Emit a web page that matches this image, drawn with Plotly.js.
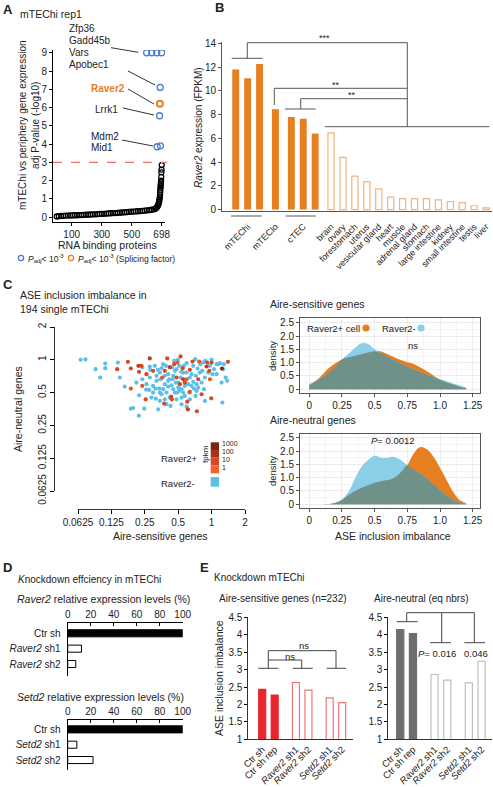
<!DOCTYPE html>
<html><head><meta charset="utf-8">
<script src="https://cdn.plot.ly/plotly-3.0.1.min.js"></script>
<style>html,body{margin:0;padding:0;background:#fff;}#chart{width:493px;height:787px;}</style>
</head><body><div id="chart"></div>
<script>
// ---------- Panel A data ----------
const rbpRank = [1,15,30,45,60,75,90,105,120,135,150,165,180,195,210,225,240,255,270,285,300,315,330,345,360,375,390,405,420,435,450,465,480,495,510,525,540,555,570,585,600,615,630,645,655,660,665,670,674,677,680,682,684,686,687,688,689,690,691,692,693,694,695,696,697,698];
const rbpLogP = [0.03,0.05,0.06,0.07,0.08,0.08,0.09,0.09,0.10,0.10,0.11,0.11,0.12,0.13,0.13,0.14,0.15,0.15,0.16,0.17,0.18,0.18,0.19,0.20,0.21,0.22,0.22,0.23,0.24,0.25,0.26,0.27,0.28,0.29,0.30,0.31,0.32,0.33,0.34,0.35,0.37,0.38,0.40,0.42,0.45,0.48,0.52,0.58,0.65,0.72,0.80,0.90,1.00,1.10,1.20,1.35,1.50,1.60,1.70,1.80,1.90,2.00,2.20,2.45,2.60,2.85];
const sigRank = [598,632,665,698,688,684,668,690];
const sigLogP = [9,9,9,9,7.1,5.55,3.85,3.9];
const splRank = [686];
const splLogP = [6.2];
const rbpTicks = [100,300,500,698];

// ---------- Panel B data ----------
const bLabels = ['mTEChi','mTEChi','mTEChi','mTEClo','cTEC','cTEC','cTEC','brain','ovary','forestomach','uterus','vesicular gland','heart','muscle','adrenal gland','stomach','large intestine','kidney','small intestine','testis','liver'];
const bValues = [11.8,11.05,12.25,8.45,7.8,7.65,6.4,6.45,4.4,2.82,2.35,1.75,1.05,0.92,0.92,0.92,0.82,0.68,0.58,0.32,0.15];
const thymic = ['mTEChi','mTEClo','cTEC'];

// ---------- Panel C scatter data ----------
const negX = [0.052,0.054,0.066,0.073,0.090,0.099,0.110,0.110,0.143,0.149,0.165,0.187,0.196,0.221,0.222,0.237,0.237,0.247,0.257,0.274,0.277,0.280,0.277,0.287,0.297,0.312,0.314,0.319,0.328,0.330,0.337,0.342,0.346,0.354,0.366,0.379,0.379,0.387,0.392,0.406,0.420,0.426,0.435,0.441,0.460,0.467,0.476,0.483,0.490,0.497,0.500,0.511,0.532,0.536,0.536,0.574,0.574,0.595,0.595,0.595,0.628,0.637,0.637,0.683,0.693,0.712,0.717,0.732,0.747,0.790,0.824,0.871,0.871,0.877,1.0,1.02,1.11,1.11,1.15,1.19,1.23,1.25,1.27,1.29,1.34,1.38,
  0.308,0.342,0.366,0.406,0.415,0.451,0.467,0.511,0.525,0.555,0.563,0.616,0.660,0.683,0.722,0.732,0.784,0.812,0.841,0.933,0.966,1.05,0.392,0.354,0.451,0.555,0.660,0.406,0.319,0.297,0.259,0.210,0.483,0.536,0.758,0.853,0.379,0.444,0.500,0.342];
const negY = [0.712,0.327,1.0,1.007,0.820,0.688,0.925,0.838,0.945,0.688,0.568,0.356,0.361,0.307,0.472,0.850,0.663,0.356,0.533,0.529,0.868,0.809,0.688,0.450,0.576,0.544,0.440,0.712,0.809,0.351,0.544,0.419,0.663,0.838,0.537,0.712,0.434,0.880,0.390,0.568,0.450,0.377,0.584,0.850,0.979,0.500,0.618,0.820,0.500,1.0,0.556,0.518,0.775,0.537,0.450,0.576,0.466,0.932,0.764,0.371,0.500,0.688,0.434,0.627,0.544,1.014,0.466,0.518,0.832,0.912,0.792,0.688,0.419,0.979,1.0,0.738,0.912,0.738,0.912,0.932,0.618,0.405,0.820,0.912,0.688,0.641,
  0.880,0.764,0.912,0.738,0.663,0.712,0.792,0.880,0.688,0.764,0.880,0.597,0.738,0.880,0.712,0.597,0.764,0.618,0.945,0.764,0.880,0.820,0.500,0.483,0.537,0.500,0.576,0.641,0.641,0.500,0.597,0.618,0.434,0.390,0.556,0.537,0.597,0.663,0.618,0.500];
const posX = [0.141,0.176,0.187,0.187,0.219,0.233,0.222,0.237,0.259,0.255,0.277,0.297,0.359,0.379,0.374,0.398,0.420,0.432,0.460,0.493,0.525,0.547,0.555,0.574,0.595,0.518,0.637,0.637,0.603,0.611,0.673,0.737,0.758,0.774,0.812,0.901,0.914,0.953,0.966,0.993,1.0,1.240,1.404,0.438,0.483];
const posY = [0.820,0.959,0.544,0.832,0.880,0.880,0.775,0.576,0.738,0.434,1.029,0.792,0.688,0.792,0.396,1.029,0.856,0.459,0.912,0.945,1.073,0.838,0.663,0.618,0.663,0.597,0.809,0.507,0.413,0.351,0.965,0.337,0.663,0.965,0.483,0.868,0.945,0.792,0.663,0.443,0.945,0.832,0.959,0.434,0.688];
const posFpkm = [10,10,3,10,30,10,10,3,10,10,30,10,3,10,10,10,30,10,10,3,10,10,30,10,3,10,10,3,10,30,10,10,10,3,10,30,10,10,3,10,10,300,10,10,10];
const log2Ticks = [0.0625,0.125,0.25,0.5,1,2];

// ---------- Panel C density data ----------
const sensX = [0,0.05,0.1,0.15,0.2,0.25,0.3,0.35,0.4,0.45,0.5,0.55,0.6,0.65,0.7,0.75,0.8,0.85,0.9,0.95,1.0,1.05,1.1,1.15,1.2];
const sensPos = [0.16,0.32,0.55,0.8,0.98,1.12,1.2,1.26,1.32,1.38,1.43,1.42,1.32,1.2,1.1,1.02,0.95,0.82,0.68,0.52,0.36,0.26,0.18,0.1,0.04];
const sensNeg = [0.2,0.3,0.44,0.62,0.86,1.12,1.33,1.56,1.73,1.7,1.5,1.36,1.22,1.1,0.96,0.86,0.74,0.64,0.55,0.46,0.38,0.31,0.22,0.14,0.07];
const neutX = [0.1,0.15,0.2,0.25,0.3,0.35,0.4,0.45,0.5,0.55,0.6,0.65,0.7,0.75,0.8,0.85,0.9,0.95,1.0,1.05,1.1,1.15,1.2];
const neutPos = [0,0.01,0.06,0.16,0.35,0.5,0.62,0.72,0.81,0.87,0.91,1.0,1.2,1.47,1.92,2.15,2.07,1.79,1.37,0.91,0.47,0.16,0.04];
const neutNeg = [0,0.0,0.05,0.19,0.47,0.97,1.41,1.66,1.82,1.75,1.75,1.78,1.66,1.47,1.29,1.16,0.97,0.75,0.54,0.35,0.16,0.07,0.01];

// ---------- Panel D data ----------
const dRaverLabels = ['Ctr sh','<i>Raver2</i> sh1','<i>Raver2</i> sh2'];
const dRaverValues = [100,12,7];
const dSetdLabels = ['Ctr sh','<i>Setd2</i> sh1','<i>Setd2</i> sh2'];
const dSetdValues = [100,8,22];

// ---------- Panel E data ----------
const eLabels = ['Ctr sh','Ctr sh rep','<i>Raver2</i> sh1','<i>Raver2</i> sh2','<i>Setd2</i> sh1','<i>Setd2</i> sh2'];
const eSens = [2.43,2.27,2.63,2.41,2.19,2.05];
const eNeut = [4.15,4.03,2.86,2.70,2.62,3.24];

// ================= layout helpers =================
const W = 493, H = 787;
const FONT = 'Liberation Sans, Arial, sans-serif';
const TXT = '#222';
const dx = (a,b) => [a/W, b/W];
const dy = (t,b) => [1-b/H, 1-t/H];
const PX = x => x/W, PY = y => 1-y/H;
const annotations = [];
function ann(text, x, y, o) {
  o = o || {};
  annotations.push({text: text, x: PX(x), y: PY(y), xref:'paper', yref:'paper', showarrow:false,
    xanchor: o.xa || 'left', yanchor: o.ya || 'middle', textangle: o.rot || 0,
    font: {family: FONT, size: o.size || 10, color: o.color || TXT}});
}
const shapes = [];
function seg(x0,y0,x1,y1,color,width,dash) {
  shapes.push({type:'line', xref:'paper', yref:'paper', x0:PX(x0), y0:PY(y0), x1:PX(x1), y1:PY(y1),
    line:{color: color || '#555', width: width || 1, dash: dash || 'solid'}});
}
function rect(x0,y0,x1,y1,fill) {
  shapes.push({type:'rect', xref:'paper', yref:'paper', x0:PX(x0), y0:PY(y0), x1:PX(x1), y1:PY(y1),
    fillcolor: fill, line:{width:0}});
}
function circ(x,y,r,color,fill) {
  shapes.push({type:'circle', xref:'paper', yref:'paper', x0:PX(x-r), y0:PY(y+r), x1:PX(x+r), y1:PY(y-r),
    fillcolor: fill || 'rgba(0,0,0,0)', line:{color: color, width: fill ? 0 : 1.2}});
}
const tf = s => ({family: FONT, size: s || 10, color: TXT});

const traces = [];

// ================= Panel A =================
traces.push({type:'scatter', mode:'markers', x: rbpRank, y: rbpLogP, xaxis:'x', yaxis:'y',
  marker:{symbol:'circle-open', size:5, color:'#000', line:{width:1.3, color:'#000'}}});
traces.push({type:'scatter', mode:'markers', x: sigRank, y: sigLogP, xaxis:'x', yaxis:'y',
  marker:{symbol:'circle-open', size:6, color:'#4A7BD0', line:{width:1.3, color:'#4A7BD0'}}});
traces.push({type:'scatter', mode:'markers', x: splRank, y: splLogP, xaxis:'x', yaxis:'y',
  marker:{symbol:'circle-open', size:6, color:'#E87E24', line:{width:2, color:'#E87E24'}}});

// ================= Panel B =================
const bPos = [];
let p = 0;
bLabels.forEach((l,i) => {
  if (i > 0) { p += 1; if (l !== bLabels[i-1] && thymic.includes(bLabels[i-1])) p += 0.33; }
  bPos.push(p);
});
const bIsThymic = bLabels.map(l => thymic.includes(l));
traces.push({type:'bar', x: bPos.filter((v,i)=>bIsThymic[i]), y: bValues.filter((v,i)=>bIsThymic[i]),
  xaxis:'x2', yaxis:'y2', width:0.58, marker:{color:'#E67E22', line:{width:0}}});
traces.push({type:'bar', x: bPos.filter((v,i)=>!bIsThymic[i]), y: bValues.filter((v,i)=>!bIsThymic[i]),
  xaxis:'x2', yaxis:'y2', width:0.52, marker:{color:'#ffffff', line:{width:1.2, color:'#F5B27C'}}});
const bTickVals = [], bTickText = [];
[...new Set(bLabels)].forEach(l => {
  const ps = bPos.filter((v,i)=>bLabels[i]===l);
  bTickVals.push(ps.reduce((a,b)=>a+b,0)/ps.length); bTickText.push(l);
});

// ================= Panel C scatter =================
traces.push({type:'scatter', mode:'markers', x: negX, y: negY, xaxis:'x3', yaxis:'y3', cliponaxis:false,
  marker:{size:4.2, color:'#5DBEE6'}});
traces.push({type:'scatter', mode:'markers', x: posX, y: posY, xaxis:'x3', yaxis:'y3', cliponaxis:false,
  marker:{size:4.2, color: posFpkm.map(v=>Math.log10(v)), cmin:0, cmax:3,
    colorscale:[[0,'#F2622A'],[0.33,'#D9461F'],[0.66,'#A9321A'],[1,'#6A1E10']], showscale:false}});

// ================= Panel C densities =================
const ORG = '#E67E22', BLU = '#8ACFE7', OVL = '#70908A';
function dens(xs, pos, neg, xa, ya) {
  traces.push({type:'scatter', mode:'lines', x: xs, y: pos, xaxis:xa, yaxis:ya, fill:'tozeroy',
    fillcolor:ORG, line:{width:0, shape:'spline', color:ORG}});
  traces.push({type:'scatter', mode:'lines', x: xs, y: neg, xaxis:xa, yaxis:ya, fill:'tozeroy',
    fillcolor:BLU, line:{width:0, shape:'spline', color:BLU}});
  traces.push({type:'scatter', mode:'lines', x: xs, y: pos.map((v,i)=>Math.min(v,neg[i])), xaxis:xa, yaxis:ya, fill:'tozeroy',
    fillcolor:OVL, line:{width:0, shape:'spline', color:OVL}});
}
dens(sensX, sensPos, sensNeg, 'x4', 'y4');
dens(neutX, neutPos, neutNeg, 'x5', 'y5');

// ================= Panel D =================
traces.push({type:'bar', orientation:'h', y: dRaverLabels, x: dRaverValues, xaxis:'x6', yaxis:'y6', width:0.46,
  marker:{color: dRaverLabels.map((l,i)=> i===0 ? '#000' : '#fff'), line:{width:1, color:'#000'}}});
traces.push({type:'bar', orientation:'h', y: dSetdLabels, x: dSetdValues, xaxis:'x7', yaxis:'y7', width:0.46,
  marker:{color: dSetdLabels.map((l,i)=> i===0 ? '#000' : '#fff'), line:{width:1, color:'#000'}}});

// ================= Panel E =================
const ePos = [];
eLabels.forEach((l,i)=>{ ePos.push(i===0 ? 0 : ePos[i-1] + (i%2===0 ? 1.7 : 1)); });
const isCtr = eLabels.map(l => l.startsWith('Ctr'));
traces.push({type:'bar', x: ePos, y: eSens, xaxis:'x8', yaxis:'y8', width:0.56, base:0,
  marker:{color: isCtr.map(c=> c ? '#E8262E' : '#fff'), line:{width:1.2, color: isCtr.map(c=> c ? '#E8262E' : '#F07676')}}});
traces.push({type:'bar', x: ePos, y: eNeut, xaxis:'x9', yaxis:'y9', width:0.56, base:0,
  marker:{color: isCtr.map(c=> c ? '#6E6E6E' : '#fff'), line:{width:1.2, color: isCtr.map(c=> c ? '#6E6E6E' : '#BDBDBD')}}});

// ================= axes =================
const base = {showgrid:false, zeroline:false, showline:true, linecolor:'#000', linewidth:1,
  ticks:'outside', ticklen:3, tickcolor:'#000', tickfont: tf(10), fixedrange:true};
const L2 = Math.log10;
const denX = {...base, linecolor:'#555', mirror:true, tickcolor:'#555', range:[-0.071,1.306],
  tickvals:[0,0.25,0.5,0.75,1,1.25], ticktext:['0','0.25','0.5','0.75','1.0','1.25'],
  showgrid:true, gridcolor:'#E6E6E6', gridwidth:0.8,
  minor:{tickvals:[0.125,0.375,0.625,0.875,1.125], showgrid:true, gridcolor:'#F3F3F3', ticks:''}};
const denY = {...base, linecolor:'#555', mirror:true, tickcolor:'#555',
  tickvals:[0,0.5,1,1.5,2,2.5], ticktext:['0','0.5','1.0','1.5','2.0','2.5'],
  showgrid:true, gridcolor:'#E6E6E6', gridwidth:0.8,
  minor:{tickvals:[0.25,0.75,1.25,1.75,2.25], showgrid:true, gridcolor:'#F3F3F3', ticks:''}};
const eY = {...base, linecolor:'#333', range:[1,4.51], tickvals:[1,1.5,2,2.5,3,3.5,4,4.5],
  ticktext:['1','1.5','2','2.5','3','3.5','4','4.5']};

const layout = {
  width:W, height:H, margin:{l:0,r:0,t:0,b:0}, showlegend:false, barmode:'overlay',
  paper_bgcolor:'#fff', plot_bgcolor:'rgba(0,0,0,0)', font:{family:FONT, color:TXT},
  xaxis:{...base, domain:dx(53,165), range:[-24,720], anchor:'y', tickvals:rbpTicks},
  yaxis:{...base, domain:dy(50,222), range:[-0.27,9.15], anchor:'x', tickvals:[0,1,2,3,4,5,6,7,8,9]},
  xaxis2:{...base, domain:dx(222,492), range:[-1.15,21.48], anchor:'y2', linecolor:'#555', ticks:'',
    tickvals:bTickVals, ticktext:bTickText, tickangle:-45, tickfont:tf(9), ticklabelstandoff:6},
  yaxis2:{...base, domain:dy(42,211), range:[-0.12,14.11], anchor:'x2', linecolor:'#555', tickcolor:'#555',
    tickvals:[0,2,4,6,8,10,12,14]},
  xaxis3:{...base, type:'log', domain:dx(78,245), range:[L2(0.0625),L2(2)], anchor:'free', position:PY(509),
    tickvals:log2Ticks, ticktext:log2Ticks.map(String), ticklen:4, linecolor:'#333'},
  yaxis3:{...base, type:'log', domain:dy(327,491), range:[L2(0.0625),L2(2)], anchor:'free', position:PX(54),
    tickvals:log2Ticks, ticktext:log2Ticks.map(String), ticklen:4, tickangle:-90, linecolor:'#333'},
  xaxis4:{...denX, domain:dx(300,480), anchor:'y4'},
  yaxis4:{...denY, domain:dy(318.3,393.3), range:[-0.15,2.665], anchor:'x4'},
  xaxis5:{...denX, domain:dx(300,480), anchor:'y5'},
  yaxis5:{...denY, domain:dy(434.3,507.7), range:[-0.128,2.63], anchor:'x5'},
  xaxis6:{...base, domain:dx(67.7,182.7), range:[0,100], side:'top', anchor:'y6', ticks:'inside', ticklen:3,
    tickvals:[0,20,40,60,80,100]},
  yaxis6:{...base, domain:dy(623,676), type:'category', categoryorder:'array', categoryarray:dRaverLabels,
    range:[2.78,-0.67], anchor:'x6', ticks:'', ticklabelstandoff:4},
  xaxis7:{...base, domain:dx(67.7,182.7), range:[0,100], side:'top', anchor:'y7', ticks:'inside', ticklen:3,
    tickvals:[0,20,40,60,80,100]},
  yaxis7:{...base, domain:dy(720,770), type:'category', categoryorder:'array', categoryarray:dSetdLabels,
    range:[2.65,-0.61], anchor:'x7', ticks:'', ticklabelstandoff:4},
  xaxis8:{...base, domain:dx(248.3,352.7), range:[-1.11,7.24], anchor:'y8', linecolor:'#333', ticks:'',
    tickvals:ePos, ticktext:eLabels, tickangle:-45, tickfont:tf(9.5)},
  yaxis8:{...eY, domain:dy(617,739.3), anchor:'x8'},
  xaxis9:{...base, domain:dx(388.3,492), range:[-0.94,7.22], anchor:'y9', linecolor:'#333', ticks:'',
    tickvals:ePos, ticktext:eLabels, tickangle:-45, tickfont:tf(9.5)},
  yaxis9:{...eY, domain:dy(617,739.3), anchor:'x9'},
  annotations: annotations, shapes: shapes
};

// ---------- Panel A text & lines ----------
ann('<b>A</b>', 1, 9, {size:13});
ann('mTEChi rep1', 18, 14, {size:10.5});
ann('Zfp36', 66.7, 28.3); ann('Gadd45b', 66.7, 40.7); ann('Vars', 66.7, 52.7); ann('Apobec1', 66.7, 64.7);
ann('<b>Raver2</b>', 89, 88.7, {color:'#E87E24'});
ann('Lrrk1', 92.7, 109); ann('Mdm2', 89, 136); ann('Mid1', 89, 148);
ann('mTEChi vs periphery gene expression<br>adj P-value (-log10)', 29, 125, {xa:'center', rot:-90, size:10});
ann('RNA binding proteins', 107, 245, {xa:'center', size:10.5});
ann('<i>P</i><sub>adj</sub>< 10<sup>-3</sup>', 26, 258, {size:8.5});
ann('<i>P</i><sub>adj</sub>< 10<sup>-3</sup> (Splicing factor)', 76, 258, {size:8.5});
circ(21, 258, 2.6, '#4A7BD0'); circ(71, 258, 2.6, '#E87E24');
seg(111,47.7,138.3,52.3,'#333'); seg(128,71,155,85,'#333'); seg(128,89,154,104,'#333');
seg(123,108,154,115,'#333'); seg(122,140,153,146,'#333');
shapes.push({type:'line', xref:'paper', yref:'y', x0:PX(53), x1:PX(167), y0:3, y1:3,
  line:{color:'#F07070', width:1.3, dash:'dash'}});

// ---------- Panel B text & brackets ----------
ann('<b>B</b>', 213, 8, {size:13});
ann('<i>Raver2</i> expression (FPKM)', 198, 128, {xa:'center', rot:-90, size:10});
ann('***', 324, 38, {xa:'center', size:9}); ann('**', 335.7, 85, {xa:'center', size:9}); ann('**', 351.7, 95, {xa:'center', size:9});
seg(247.3,42.7,407.3,42.7); seg(247.3,42.7,247.3,58.3); seg(231.7,58.3,262.7,58.3);
seg(407.3,42.7,407.3,126.7); seg(325,126.7,489.3,126.7);
seg(274.3,88.3,407.3,88.3); seg(274.3,88.3,274.3,105);
seg(300.7,98.7,407.3,98.7); seg(300.7,98.7,300.7,109); seg(285,109,315.7,109);
seg(231,216,261.7,216); seg(285.7,216,315.7,216);

// ---------- Panel C text ----------
ann('<b>C</b>', 1, 284, {size:13});
ann('ASE inclusion imbalance in', 18, 295, {size:10.5}); ann('194 single mTEChi', 18, 309, {size:10.5});
ann('Aire-neutral genes', 18, 409, {xa:'center', rot:-90, size:10.5});
ann('Aire-sensitive genes', 160, 536, {xa:'center', size:10.5});
ann('Raver2+', 159, 458, {size:9.5}); ann('Raver2-', 159, 483, {size:9.5});
ann('fpkm', 205, 454, {xa:'center', rot:-90, size:8});
ann('1000', 220, 443, {size:7}); ann('100', 220, 451.2, {size:7}); ann('10', 220, 459.4, {size:7}); ann('1', 220, 467.6, {size:7});
rect(210.7,442.3,219,450,'#7A2412'); rect(210.7,450,219,457.7,'#A9321A'); rect(210.7,457.7,219,465.5,'#D9461F'); rect(210.7,465.5,219,473.3,'#F2622A');
rect(210.7,477,219,486.7,'#5DBEE6');

ann('Aire-sensitive genes', 268, 304, {size:10.5});
ann('density', 272, 356, {xa:'center', rot:-90, size:9.5});
ann('Raver2+ cell', 305, 328, {size:9.5}); ann('Raver2-', 380, 328, {size:9.5});
circ(366, 328, 3.6, ORG, ORG); circ(421, 328, 3.6, BLU, BLU);
ann('ns', 413, 345, {xa:'center', size:9.5});
ann('Aire-neutral genes', 268, 420, {size:10.5});
ann('density', 272, 471, {xa:'center', rot:-90, size:9.5});
ann('<i>P</i>= 0.0012', 393, 440, {xa:'center', size:9.5});
ann('ASE inclusion imbalance', 393, 536, {xa:'center', size:10.5});

// ---------- Panel D text ----------
ann('<b>D</b>', 1, 567, {size:13});
ann('<i>K</i>nockdown effciency in mTEChi', 16, 579, {size:10});
ann('<i>Raver2</i> relative expression levels (%)', 15, 599, {size:10.5});
ann('<i>Setd2</i> relative expression levels (%)', 15, 697, {size:10.5});

// ---------- Panel E text & brackets ----------
ann('<b>E</b>', 198, 567, {size:13});
ann('Knockdown mTEChi', 211.7, 577, {size:10});
ann('Aire-sensitive genes (n=232)', 216.7, 598, {size:10});
ann('Aire-neutral (eq nbrs)', 371.7, 598, {size:10});
ann('ASE inclusion imbalance', 219, 678, {xa:'center', rot:-90, size:10.5});
ann('ns', 290, 656, {xa:'center', size:9.5}); ann('ns', 304.3, 645, {xa:'center', size:9.5});
ann('<i>P</i>= 0.016', 436.7, 653, {xa:'center', size:9.5}); ann('0.046', 475.7, 653, {xa:'center', size:9.5});
seg(258.3,668.3,278.3,668.3,'#444'); seg(292.7,668.3,312.7,668.3,'#444'); seg(326.7,668.3,346,668.3,'#444');
seg(268.3,660,301.7,660,'#444'); seg(301.7,660,301.7,668.3,'#444');
seg(268.3,650.7,336,650.7,'#444'); seg(336,650.7,336,668.3,'#444'); seg(268.3,650.7,268.3,668.3,'#444');
seg(406.7,612.7,474.3,612.7,'#444'); seg(406.7,612.7,406.7,621.7,'#444'); seg(396.7,621.7,417.7,621.7,'#444');
seg(441.7,612.7,441.7,642.7,'#444'); seg(430,642.7,451,642.7,'#444');
seg(474.3,612.7,474.3,642.7,'#444'); seg(464.3,642.7,485,642.7,'#444');

Plotly.newPlot('chart', traces, layout, {staticPlot:true, displayModeBar:false});
</script></body></html>
